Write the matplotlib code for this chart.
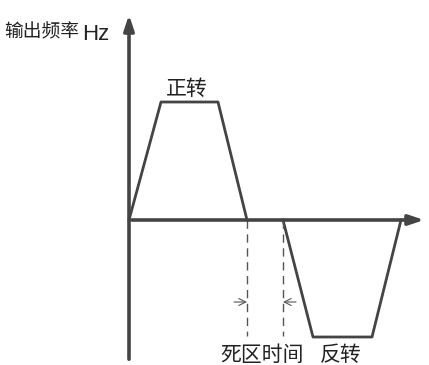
import matplotlib
matplotlib.use("Agg")
import matplotlib.pyplot as plt

plt.rcParams['font.family'] = ['Noto Sans CJK SC', 'DejaVu Sans']

# 正转 / 反转 的频率曲线 (时间, 频率)，原点在坐标轴交点
fwd_t = [0, 32, 89, 118]
fwd_f = [0, 118, 118, 0]
rev_t = [154, 184, 243, 272]
rev_f = [0, -117, -117, 0]
dead_t = [118, 154]

label_y = '输出频率'
label_unit = 'Hz'
label_fwd = '正转'
label_rev = '反转'
label_dead = '死区时间'

c = '#444444'
tc = '#222222'

fig = plt.figure(figsize=(4.29, 3.65), dpi=100)
ax = fig.add_axes([0, 0, 1, 1])
ax.set_xlim(-129, 300)
ax.set_ylim(-145, 220)
ax.axis('off')

# 坐标轴
ax.annotate('', xy=(0, 208), xytext=(0, -142),
            arrowprops=dict(arrowstyle='-|>,head_length=0.9,head_width=0.3', color=c, lw=2.6))
ax.annotate('', xy=(298, 0), xytext=(0, 0),
            arrowprops=dict(arrowstyle='-|>,head_length=0.9,head_width=0.3', color=c, lw=2.6))

ax.plot(fwd_t, fwd_f, color=c, lw=2)
ax.plot(rev_t, rev_f, color=c, lw=2)

# 死区
for t in dead_t:
    ax.plot([t, t], [0, -116], color='#555555', lw=1, dashes=(6, 4))
ax.annotate('', xy=(dead_t[0], -82), xytext=(dead_t[0] - 13, -82),
            arrowprops=dict(arrowstyle='->,head_length=0.5,head_width=0.25',
                            color='#555555', lw=0.8, shrinkA=0, shrinkB=0))
ax.annotate('', xy=(dead_t[1], -82), xytext=(dead_t[1] + 13, -82),
            arrowprops=dict(arrowstyle='->,head_length=0.5,head_width=0.25',
                            color='#555555', lw=0.8, shrinkA=0, shrinkB=0))

ax.text(-125, 188, label_y, fontsize=13.5, va='center', ha='left', color=tc)
ax.text(-47, 186, label_unit, fontsize=16, va='center', ha='left', color=tc,
        family='Liberation Sans')
ax.text(58, 131, label_fwd, fontsize=15, va='center', ha='center', color=tc)
ax.text(133, -135, label_dead, fontsize=15, va='center', ha='center', color=tc)
ax.text(212, -135, label_rev, fontsize=15, va='center', ha='center', color=tc)

fig.savefig('out.png', dpi=100)
